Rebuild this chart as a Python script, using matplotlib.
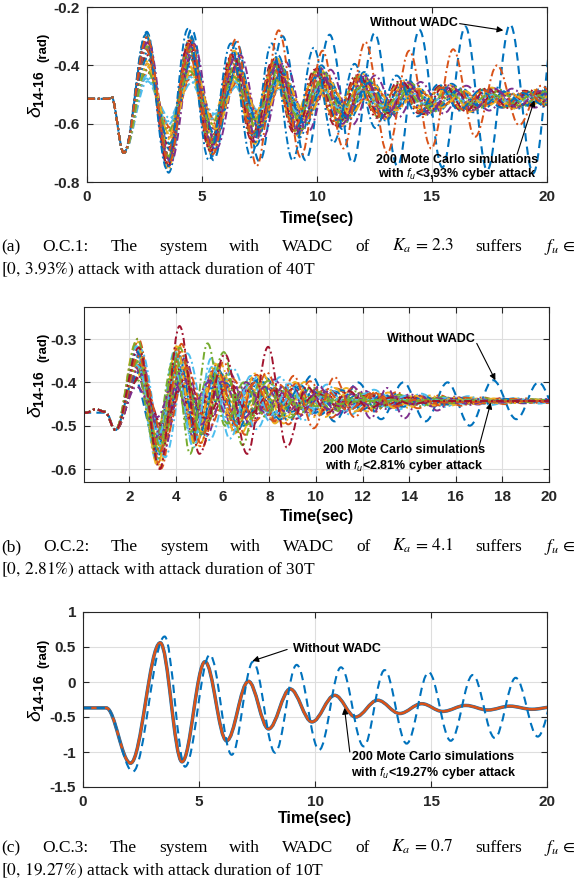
import matplotlib
matplotlib.use('Agg')
import matplotlib.pyplot as plt
from matplotlib.path import Path
from matplotlib.patches import PathPatch

W, H = 578, 893

plt.rcParams['font.family'] = ['Liberation Sans', 'DejaVu Sans']
plt.rcParams['axes.unicode_minus'] = False
plt.rcParams['mathtext.fontset'] = 'custom'
plt.rcParams['mathtext.rm'] = 'Liberation Sans:bold'
plt.rcParams['mathtext.bf'] = 'Liberation Sans:bold'
plt.rcParams['mathtext.it'] = 'Liberation Sans:italic'
plt.rcParams['mathtext.sf'] = 'Liberation Sans:bold'

# MATLAB default line colours
blue, orange, yellow, purple = '#0072BD', '#D95319', '#EDB120', '#7E2F8E'
green, cyan, red = '#77AC30', '#4DBEEE', '#A2142F'
mc_colors = [blue, orange, yellow, purple, green, cyan, red]

# ---------------- (a) O.C.1 ----------------
a_lead_t = [0, 0.95, 1.05, 1.6]
a_lead_y = [-0.515, -0.515, -0.505, -0.70]
a_center = -0.515
# times of the following peaks/troughs (first one is a peak)
a_swing_t = [2.6, 3.55, 4.5, 5.45, 6.45, 7.35, 8.3, 9.25, 10.2, 11.1, 12.05, 13.0,
             13.95, 14.9, 15.85, 16.8, 17.75, 18.7, 19.65, 20.6, 21.55]
a_swing = [0.20, 0.22, 0.19, 0.17, 0.15, 0.14, 0.13, 0.115, 0.10, 0.09, 0.08, 0.065,
           0.058, 0.05, 0.045, 0.04, 0.035, 0.03, 0.028, 0.025, 0.022]
a_scale = [1.15, 0.9, 0.55, 1.05, 0.7, 0.35, 1.0, 0.8, 0.45, 1.1, 0.6, 0.95, 0.3,
           0.75, 0.85, 0.5, 0.65, 1.0, 0.9, 0.4, 1.05, 0.7, 0.85, 0.6, 0.95, 0.5]
a_stretch = [1.0, 0.985, 1.02, 0.995, 1.01, 0.975, 0.965, 1.03, 1.04, 0.99, 1.015,
             0.97, 1.025, 1.005, 0.98, 1.035, 0.96, 1.045, 1.012, 0.992, 0.978, 1.022,
             0.968, 1.038, 1.0, 0.988]
a_orange_swing = [0.21, 0.22, 0.20, 0.19, 0.205, 0.23, 0.235, 0.20, 0.165, 0.17, 0.195,
                  0.185, 0.165, 0.17, 0.17, 0.13, 0.115, 0.09, 0.045, 0.03, 0.02]
a_blue_swing = [0.22, 0.24, 0.24, 0.21, 0.19, 0.20, 0.19, 0.21, 0.175, 0.15, 0.12, 0.10,
                0.08, 0.06, 0.05, 0.04, 0.03, 0.03, 0.02, 0.02, 0.02]
a_nowadc_t = [0, 0.95, 1.05, 1.6, 2.6, 3.55, 4.55, 5.5, 6.5, 7.5, 8.5, 9.5, 10.55, 11.55,
              12.5, 13.5, 14.45, 15.45, 16.45, 17.4, 18.4, 19.4, 20.35]
a_nowadc_y = [-0.515, -0.515, -0.505, -0.70, -0.29, -0.745, -0.276, -0.725, -0.32, -0.73,
              -0.30, -0.725, -0.295, -0.735, -0.29, -0.745, -0.278, -0.75, -0.267, -0.76,
              -0.26, -0.77, -0.26]

# ---------------- (b) O.C.2 ----------------
b_lead_t = [0, 0.15, 0.55, 0.95, 1.4]
b_lead_y = [-0.47, -0.47, -0.462, -0.468, -0.51]
b_center = -0.443
b_swing_t = [2.35, 3.3, 4.15, 5.0, 5.9, 6.8, 7.7, 8.6, 9.5, 10.4, 11.3, 12.2, 13.1, 14.0,
             14.9, 15.8, 16.7, 17.6, 18.5, 19.4, 20.3, 21.2, 22.1]
b_swing = [0.12, 0.13, 0.11, 0.09, 0.075, 0.065, 0.055, 0.045, 0.038, 0.032, 0.026, 0.021,
           0.017, 0.014, 0.011, 0.009, 0.007, 0.006, 0.005, 0.004, 0.003, 0.003, 0.003]
b_scale = [1.15, 0.95, 0.7, 1.05, 0.5, 0.85, 1.2, 0.6, 0.9, 0.4, 1.0, 0.75, 0.55, 1.1,
           0.8, 0.65, 0.85, 1.05, 0.45, 0.95, 0.7, 1.15, 0.6, 0.8]
b_stretch = [1.0, 0.93, 1.06, 0.97, 1.1, 0.95, 1.03, 0.91, 1.08, 0.99, 1.12, 0.94, 1.05,
             0.96, 1.01, 0.9, 1.04, 0.92, 1.07, 0.98, 1.11, 0.95, 1.02, 0.89]
b_red_t = [2.4, 3.3, 4.15, 5.0, 6.1, 7.05, 7.95, 8.75, 9.6, 10.5, 11.4, 12.3, 13.2, 14.1,
           15.0, 20.5]
b_red_y = [-0.32, -0.60, -0.27, -0.565, -0.335, -0.565, -0.318, -0.55, -0.41, -0.47, -0.42,
           -0.46, -0.435, -0.45, -0.443, -0.443]
b_green_t = [2.35, 3.2, 3.95, 4.6, 5.35, 6.1, 6.9, 7.7, 8.5, 9.3, 10.1, 11.0, 12.0, 20.5]
b_green_y = [-0.30, -0.58, -0.33, -0.565, -0.31, -0.50, -0.40, -0.47, -0.42, -0.46, -0.43,
             -0.45, -0.443, -0.443]
b_green2_t = [2.4, 3.3, 4.15, 5.1, 6.05, 6.85, 7.6, 8.4, 9.2, 10.0, 10.8, 20.5]
b_green2_y = [-0.35, -0.56, -0.32, -0.52, -0.33, -0.545, -0.40, -0.48, -0.43, -0.455, -0.44,
              -0.443]
b_cyan_t = [2.3, 3.25, 4.0, 4.75, 5.5, 6.3, 7.2, 8.1, 9.0, 9.9, 10.8, 20.5]
b_cyan_y = [-0.36, -0.52, -0.38, -0.55, -0.345, -0.53, -0.40, -0.475, -0.43, -0.46, -0.44,
            -0.443]
b_orange_t = [2.4, 3.3, 4.2, 5.05, 5.85, 6.6, 7.4, 8.2, 9.05, 9.9, 10.8, 11.65, 12.5, 13.4,
              14.3, 15.2, 20.5]
b_orange_y = [-0.34, -0.56, -0.33, -0.54, -0.38, -0.50, -0.40, -0.49, -0.385, -0.506,
              -0.388, -0.48, -0.425, -0.455, -0.44, -0.446, -0.443]
b_purple_t = [2.3, 3.2, 3.9, 4.6, 5.4, 6.2, 7.0, 7.8, 8.6, 9.4, 10.15, 10.9, 11.6, 12.35,
              13.05, 13.8, 14.5, 15.2, 15.9, 16.6, 17.3, 20.5]
b_purple_y = [-0.41, -0.48, -0.40, -0.47, -0.40, -0.475, -0.40, -0.47, -0.41, -0.475, -0.41,
              -0.475, -0.41, -0.483, -0.413, -0.483, -0.43, -0.465, -0.437, -0.452, -0.443,
              -0.443]
b_nowadc_t = [0, 1.0, 1.4, 2.2, 3.1, 4.0, 4.95, 5.9, 6.9, 7.85, 8.85, 9.8, 10.8, 11.8, 12.8,
              13.75, 14.7, 15.65, 16.6, 17.6, 18.6, 19.55, 20.5]
b_nowadc_y = [-0.47, -0.47, -0.51, -0.39, -0.53, -0.37, -0.52, -0.38, -0.50, -0.39, -0.49,
              -0.385, -0.49, -0.40, -0.485, -0.40, -0.49, -0.40, -0.50, -0.395, -0.485,
              -0.40, -0.485]

# ---------------- (c) O.C.3 ----------------
c_mc_t = [0, 1.0, 2.05, 3.33, 4.27, 5.26, 6.19, 7.13, 8.0, 8.93, 9.87, 10.85, 11.75, 12.7,
          13.65, 14.6, 15.5, 16.5, 17.45, 18.4, 19.35, 20.3]
c_mc_y = [-0.37, -0.37, -1.16, 0.56, -1.14, 0.29, -0.84, 0.01, -0.67, -0.10, -0.57, -0.19,
          -0.50, -0.26, -0.45, -0.31, -0.42, -0.335, -0.40, -0.345, -0.39, -0.355]
c_nowadc_t = [0, 1.0, 2.15, 3.52, 4.4, 5.47, 6.41, 7.33, 8.28, 9.21, 10.18, 11.12, 12.1,
              13.0, 13.95, 14.9, 15.85, 16.8, 17.75, 18.65, 19.6, 20.55]
c_nowadc_y = [-0.37, -0.37, -1.28, 0.65, -1.21, 0.39, -1.04, 0.29, -1.01, 0.245, -0.97, 0.21,
              -0.92, 0.17, -0.88, 0.14, -0.84, 0.10, -0.80, 0.06, -0.78, 0.04]

dashed = (0, (4, 2.5))
dashdot = (0, (4, 1.6, 1, 1.6))


def smooth_line(ax, ts, ys, **kw):
    # cubic Bezier segments with flat tangents at every turning point
    verts = [(ts[0], ys[0])]
    codes = [Path.MOVETO]
    for i in range(1, len(ts)):
        dx = ts[i] - ts[i - 1]
        verts += [(ts[i - 1] + 0.36 * dx, ys[i - 1]), (ts[i] - 0.36 * dx, ys[i]), (ts[i], ys[i])]
        codes += [Path.CURVE4] * 3
    ax.add_patch(PathPatch(Path(verts, codes), fill=False, capstyle='butt', **kw))


def swing_run(lead_t, lead_y, swing_t, swing, center, stretch, scale):
    t0 = lead_t[-1]
    ts = list(lead_t) + [t0 + (t - t0) * stretch for t in swing_t]
    ys = list(lead_y) + [center + (scale * d if k % 2 == 0 else -scale * d)
                         for k, d in enumerate(swing)]
    return ts, ys


def style_axes(ax, xlim, ylim, xticks, yticks, ylabels):
    ax.set_xlim(*xlim)
    ax.set_ylim(*ylim)
    ax.set_xticks(xticks)
    ax.set_xticklabels([f'{v:g}' for v in xticks])
    ax.set_yticks(yticks)
    ax.set_yticklabels(ylabels)
    ax.grid(True, color='#dedede', lw=0.8)
    ax.set_axisbelow(True)
    ax.tick_params(direction='in', length=4, width=0.8, top=True, right=True,
                   labelsize=11, colors='#262626')
    ax.tick_params(axis='x', pad=6)
    ax.tick_params(axis='y', pad=5)
    for lab in ax.get_xticklabels() + ax.get_yticklabels():
        lab.set_fontweight('bold')
    for s in ax.spines.values():
        s.set_color('#262626')
        s.set_linewidth(0.8)


def note(ax, x, y, s):
    ax.text(x, y, s, fontsize=9, fontweight='bold', ha='center', va='center')


def arrow(ax, tail, head):
    ax.annotate('', xy=head, xytext=tail,
                arrowprops=dict(arrowstyle='-|>', color='k', lw=0.8, mutation_scale=9,
                                shrinkA=0, shrinkB=0))


fig = plt.figure(figsize=(W / 100, H / 100), dpi=100)


def axes_px(left, top, right, bottom):
    return fig.add_axes([left / W, 1 - bottom / H, (right - left) / W, (bottom - top) / H])


def ylabel(y_mid, x=36):
    fig.text(x / W, 1 - (y_mid + 23) / H, r'$\delta_{\mathbf{14\text{-}16}}$', fontsize=14,
             rotation=90, ha='center', va='bottom')
    fig.text((x + 7) / W, 1 - (y_mid - 32) / H, '(rad)', fontsize=9.5, fontweight='bold',
             rotation=90, ha='center', va='bottom')


def xlabel(x_mid, y):
    fig.text(x_mid / W, 1 - y / H, 'Time(sec)', fontsize=11.5, fontweight='bold',
             ha='center', va='center')


def caption(y_base, words, line2, size=12.5):
    r = fig.canvas.get_renderer()
    items = [fig.text(0, 1 - y_base / H, w, fontsize=size, family='Liberation Serif',
                      fontweight='normal', math_fontfamily='stix', va='baseline')
             for w in words]
    widths = [t.get_window_extent(renderer=r).width for t in items]
    gap = (576 - 1 - sum(widths)) / (len(items) - 1)
    x = 1
    for t, w in zip(items, widths):
        t.set_x(x / W)
        x += w + gap
    fig.text(1 / W, 1 - (y_base + 23) / H, line2, fontsize=size, family='Liberation Serif',
             fontweight='normal', math_fontfamily='stix', va='baseline')


# ---- panel (a)
ax = axes_px(87, 7, 547, 182)
smooth_line(ax, a_nowadc_t, a_nowadc_y, edgecolor=blue, lw=1.5, linestyle=dashed)
for i, (sc, st) in enumerate(zip(a_scale, a_stretch)):
    ts, ys = swing_run(a_lead_t, a_lead_y, a_swing_t, a_swing, a_center, st, sc)
    smooth_line(ax, ts, ys, edgecolor=mc_colors[i % 7], lw=1.4, linestyle=dashdot)
ts, ys = swing_run(a_lead_t, a_lead_y, a_swing_t, a_blue_swing, a_center, 0.96, 1.0)
smooth_line(ax, ts, ys, edgecolor=blue, lw=1.4, linestyle=dashdot)
ts, ys = swing_run(a_lead_t, a_lead_y, a_swing_t, a_orange_swing, a_center, 1.005, 1.0)
smooth_line(ax, ts, ys, edgecolor=orange, lw=1.4, linestyle=dashdot)
style_axes(ax, (0, 20), (-0.8, -0.2), [0, 5, 10, 15, 20], [-0.8, -0.6, -0.4, -0.2],
           ['-0.8', '-0.6', '-0.4', '-0.2'])
note(ax, 14.2, -0.255, 'Without WADC')
arrow(ax, (16.2, -0.257), (18.1, -0.28))
note(ax, 16.1, -0.725, '200 Mote Carlo simulations')
note(ax, 16.1, -0.773, r'with $f_u$<3,93% cyber attack')
arrow(ax, (18.7, -0.705), (19.45, -0.52))
ylabel(94.5)
xlabel(317, 218)
caption(251, ['(a)', 'O.C.1:', 'The', 'system', 'with', 'WADC', 'of', r'$K_a\,=\,2.3$',
              'suffers', r'$f_u\, \in$'],
        r'$[0,\,3.93\%)$ attack with attack duration of 40T')

# ---- panel (b)
ax = axes_px(84, 307, 549, 482)
smooth_line(ax, b_nowadc_t, b_nowadc_y, edgecolor=blue, lw=1.5, linestyle=dashed)
for i, (sc, st) in enumerate(zip(b_scale, b_stretch)):
    ts, ys = swing_run(b_lead_t, b_lead_y, b_swing_t, b_swing, b_center, st, sc)
    smooth_line(ax, ts, ys, edgecolor=mc_colors[(i + 2) % 7], lw=1.4, linestyle=dashdot)
for col, tt, yy in [(cyan, b_cyan_t, b_cyan_y), (purple, b_purple_t, b_purple_y),
                    (green, b_green_t, b_green_y), (green, b_green2_t, b_green2_y),
                    (orange, b_orange_t, b_orange_y), (red, b_red_t, b_red_y)]:
    smooth_line(ax, b_lead_t + tt, b_lead_y + yy, edgecolor=col, lw=1.4, linestyle=dashdot)
style_axes(ax, (0.05, 20), (-0.63, -0.226), list(range(2, 21, 2)), [-0.6, -0.5, -0.4, -0.3],
           ['-0.6', '-0.5', '-0.4', '-0.3'])
note(ax, 14.95, -0.30, 'Without WADC')
arrow(ax, (16.9, -0.31), (17.7, -0.395))
note(ax, 13.8, -0.556, '200 Mote Carlo simulations')
note(ax, 13.8, -0.592, r'with $f_u$<2.81% cyber attack')
arrow(ax, (17.0, -0.548), (17.5, -0.447))
ylabel(394.5)
xlabel(317, 517)
caption(551, ['(b)', 'O.C.2:', 'The', 'system', 'with', 'WADC', 'of', r'$K_a\,=\,4.1$',
              'suffers', r'$f_u\, \in$'],
        r'$[0,\,2.81\%)$ attack with attack duration of 30T')

# ---- panel (c)
ax = axes_px(83, 612, 547, 787)
smooth_line(ax, c_mc_t, c_mc_y, edgecolor=blue, lw=2.5, linestyle='-')
smooth_line(ax, c_mc_t, c_mc_y, edgecolor=orange, lw=1.9, linestyle='-')
smooth_line(ax, c_nowadc_t, c_nowadc_y, edgecolor=blue, lw=1.5, linestyle=dashed)
style_axes(ax, (0, 20), (-1.5, 1), [0, 5, 10, 15, 20], [-1.5, -1, -0.5, 0, 0.5, 1],
           ['-1.5', '-1', '-0.5', '0', '0.5', '1'])
note(ax, 10.95, 0.465, 'Without WADC')
arrow(ax, (8.8, 0.465), (7.3, 0.30))
note(ax, 15.1, -1.07, '200 Mote Carlo simulations')
note(ax, 15.1, -1.30, r'with $f_u$<19.27% cyber attack')
arrow(ax, (11.5, -1.0), (11.27, -0.37))
ylabel(699.5)
xlabel(315, 818)
caption(852, ['(c)', 'O.C.3:', 'The', 'system', 'with', 'WADC', 'of', r'$K_a\,=\,0.7$',
              'suffers', r'$f_u\, \in$'],
        r'$[0,\,19.27\%)$ attack with attack duration of 10T')

fig.savefig('out.png', dpi=100)
